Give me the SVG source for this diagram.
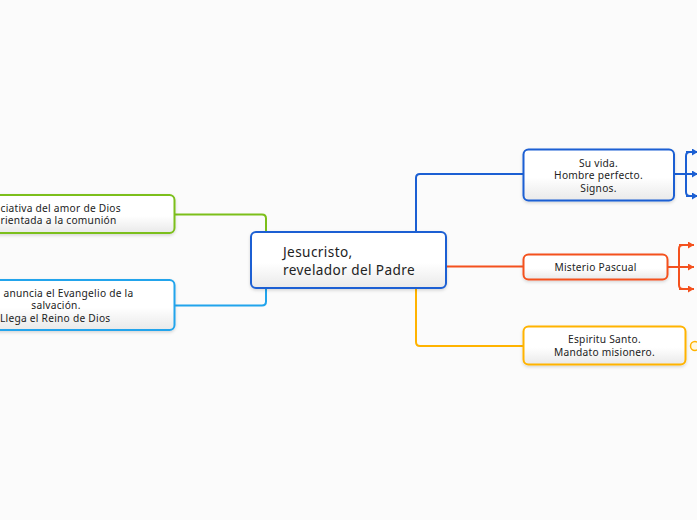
<svg xmlns="http://www.w3.org/2000/svg" width="697" height="520" viewBox="0 0 697 520">
<defs>
<style>
text{font-family:"Noto Sans","Liberation Sans",sans-serif;fill:#222}
.s{font-size:10.2px;letter-spacing:0.25px}
.c{font-size:13.6px;letter-spacing:0.4px}
.m{text-anchor:middle}
.n{fill:url(#g);stroke-width:2}
.l{fill:none;stroke-width:2;stroke-linejoin:round}
</style>
<linearGradient id="g" x1="0" y1="0" x2="0" y2="1">
<stop offset="0" stop-color="#ffffff"/>
<stop offset="0.55" stop-color="#ffffff"/>
<stop offset="1" stop-color="#e9e9e9"/>
</linearGradient>
<filter id="sh" x="-10%" y="-20%" width="120%" height="150%">
<feDropShadow dx="0" dy="1.5" stdDeviation="1.5" flood-color="#000" flood-opacity="0.15"/>
</filter>
<marker id="ab" markerUnits="userSpaceOnUse" markerWidth="7" markerHeight="8" refX="6" refY="3.5" orient="auto">
<path d="M0,0 L6,3.5 L0,7 z" fill="#1b5fd3"/>
</marker>
<marker id="ao" markerUnits="userSpaceOnUse" markerWidth="7" markerHeight="8" refX="6" refY="3.5" orient="auto">
<path d="M0,0 L6,3.5 L0,7 z" fill="#f4511e"/>
</marker>
</defs>
<rect width="697" height="520" fill="#fbfbfb"/>
<g id="connectors">
<path class="l" stroke="#7cbf1a" d="M175,214.5 H262 Q266,214.5 266,218.5 V232"/>
<path class="l" stroke="#21a4ec" d="M266,288 V301.5 Q266,305.5 262,305.5 H175"/>
<path class="l" stroke="#1b5fd3" d="M416,232 V178 Q416,174 420,174 H523"/>
<path class="l" stroke="#f4511e" d="M446,266.5 H523"/>
<path class="l" stroke="#ffb300" d="M416,288 V342 Q416,346 420,346 H523"/>
<path class="l" stroke="#1b5fd3" d="M674,174 H686"/>
<path class="l" stroke="#1b5fd3" d="M692,152 H690 Q686,152 686,156 V192 Q686,196 690,196 H692"/>
<path class="l" stroke="#1b5fd3" marker-end="url(#ab)" d="M686,152 H698"/>
<path class="l" stroke="#1b5fd3" marker-end="url(#ab)" d="M686,174 H698"/>
<path class="l" stroke="#1b5fd3" marker-end="url(#ab)" d="M686,196 H698"/>
<path class="l" stroke="#f4511e" d="M668,267 H679"/>
<path class="l" stroke="#f4511e" d="M685,245 H683 Q679,245 679,249 V285 Q679,289 683,289 H685"/>
<path class="l" stroke="#f4511e" marker-end="url(#ao)" d="M679,245 H694"/>
<path class="l" stroke="#f4511e" marker-end="url(#ao)" d="M679,267 H694"/>
<path class="l" stroke="#f4511e" marker-end="url(#ao)" d="M679,289 H694"/>
<circle cx="695" cy="346" r="4.5" fill="#fff8e1" stroke="#ffb300" stroke-width="1.5"/>
</g>
<g id="central">
<rect class="n" filter="url(#sh)" stroke="#1b5fd3" x="251" y="232" width="195" height="56" rx="5"/>
<text class="c" x="283" y="257">Jesucristo,</text>
<text class="c" x="283" y="274.5">revelador del Padre</text>
</g>
<g id="iniciativa">
<rect class="n" filter="url(#sh)" stroke="#7cbf1a" x="-70" y="195" width="244.5" height="38" rx="5"/>
<text class="s" x="0.5" y="211.5">ciativa del amor de Dios</text>
<text class="s" x="0.5" y="224">rientada a la comunión</text>
</g>
<g id="evangelio">
<rect class="n" filter="url(#sh)" stroke="#21a4ec" x="-70" y="280" width="244.5" height="50" rx="5"/>
<text class="s" x="3.5" y="296.5">anuncia el Evangelio de la</text>
<text class="s m" x="56" y="309">salvación.</text>
<text class="s" x="0" y="321.5">Llega el Reino de Dios</text>
</g>
<g id="suvida">
<rect class="n" filter="url(#sh)" stroke="#1b5fd3" x="523.5" y="149.5" width="150.5" height="51" rx="5"/>
<text class="s m" x="598.5" y="166.5">Su vida.</text>
<text class="s m" x="598.5" y="179">Hombre perfecto.</text>
<text class="s m" x="598.5" y="191.5">Signos.</text>
</g>
<g id="misterio">
<rect class="n" filter="url(#sh)" stroke="#f4511e" x="523.5" y="254.5" width="144" height="25" rx="5"/>
<text class="s m" x="595.5" y="270.5">Misterio Pascual</text>
</g>
<g id="espiritu">
<rect class="n" filter="url(#sh)" stroke="#ffb300" x="523.5" y="326.5" width="162" height="38" rx="5"/>
<text class="s m" x="604.5" y="342.5">Espiritu Santo.</text>
<text class="s m" x="604.5" y="355.5">Mandato misionero.</text>
</g>
</svg>
